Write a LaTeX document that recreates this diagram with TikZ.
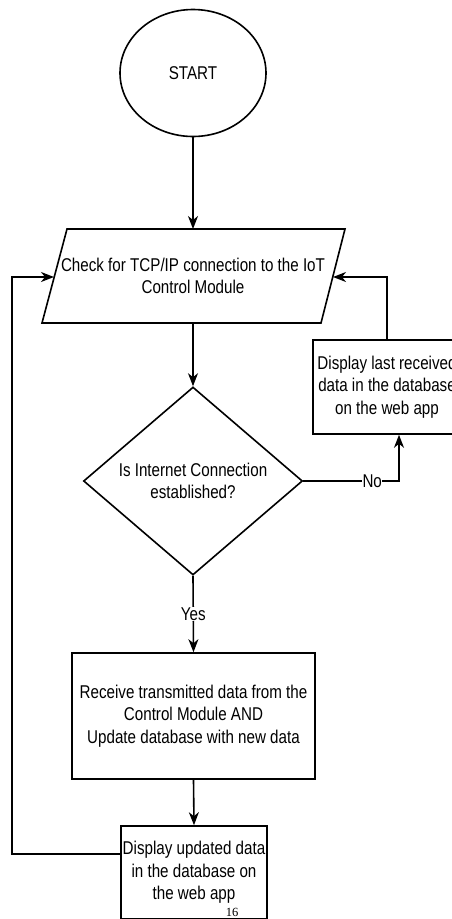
\documentclass[tikz,border=0pt]{standalone}
\usepackage{fontspec}
\setmainfont{Liberation Serif}
\newfontfamily\nf[FakeStretch=0.82]{Liberation Sans}
\usetikzlibrary{shapes.geometric,arrows.meta}
\tikzset{
  fc/.style={draw, line width=1.6pt, align=center, font=\nf\fontsize{18.5}{22.5}\selectfont, inner sep=0pt},
  conn/.style={line width=1.6pt, -{Stealth[length=13pt,width=10pt,inset=4pt]}},
  plain/.style={line width=1.6pt},
  lbl/.style={fill=white, inner sep=1pt, font=\nf\fontsize{18.5}{22.5}\selectfont}
}
\begin{document}
\begin{tikzpicture}[x=1pt,y=-1pt]
\useasboundingbox (0,0) rectangle (452,919);
\clip (0,0) rectangle (452,919);
% start
\node[fc, ellipse, minimum width=146pt, minimum height=127pt] (start) at (193,73) {START};
% parallelogram
\coordinate (ptl) at (67,229);
\coordinate (ptr) at (345,229);
\coordinate (pbr) at (321,323);
\coordinate (pbl) at (42,323);
\draw[plain, line join=miter] (ptl) -- (ptr) -- (pbr) -- (pbl) -- cycle;
\coordinate (chktop) at (193,229);
\coordinate (chkbot) at (193,323);
\coordinate (chkleft) at (54,277);
\coordinate (chkright) at (333,277);
\node[align=center, font=\nf\fontsize{18.5}{22.5}\selectfont, inner sep=0pt] (check) at (193,276) {Check for TCP/IP connection to the IoT\\Control Module};
% diamond
\node[fc, diamond, minimum width=219pt, minimum height=188pt] (dec) at (193,481) {Is Internet Connection\\established?};
% last received box
\node[fc, rectangle, minimum width=148pt, minimum height=94pt] (last) at (387,387) {Display last received\\data in the database\\on the web app};
% receive box
\node[fc, rectangle, minimum width=243pt, minimum height=126pt] (recv) at (193.5,716) {Receive transmitted data from the\\Control Module AND\\Update database with new data};
% updated box
\node[fc, rectangle, minimum width=146pt, minimum height=93pt] (upd) at (194,872.5) {Display updated data\\in the database on\\the web app};
% page number
\node[font=\fontsize{12.5}{12.5}\selectfont, inner sep=0pt] (pg) at (232,912) {16};
% connectors
\draw[conn] (start.south) -- (chktop);
\draw[conn] (chkbot) -- (dec.north);
\draw[conn] (dec.south) -- node[lbl, pos=0.5] {Yes} (recv.north);
\draw[conn] (recv.south) -- (upd.north);
\coordinate (lbend1) at (12,854);
\coordinate (lbend2) at (12,277);
\draw[conn] (upd.west |- lbend1) -- (lbend1) -- (lbend2) -- (chkleft);
\coordinate (nbend) at (399,481);
\draw[conn] (dec.east) -- node[lbl, pos=0.72, inner sep=0.5pt] {No} (nbend) -- (nbend |- last.south);
\coordinate (rbend) at (387,277);
\draw[conn] (last.north) -- (rbend) -- (chkright);
\end{tikzpicture}
\end{document}
